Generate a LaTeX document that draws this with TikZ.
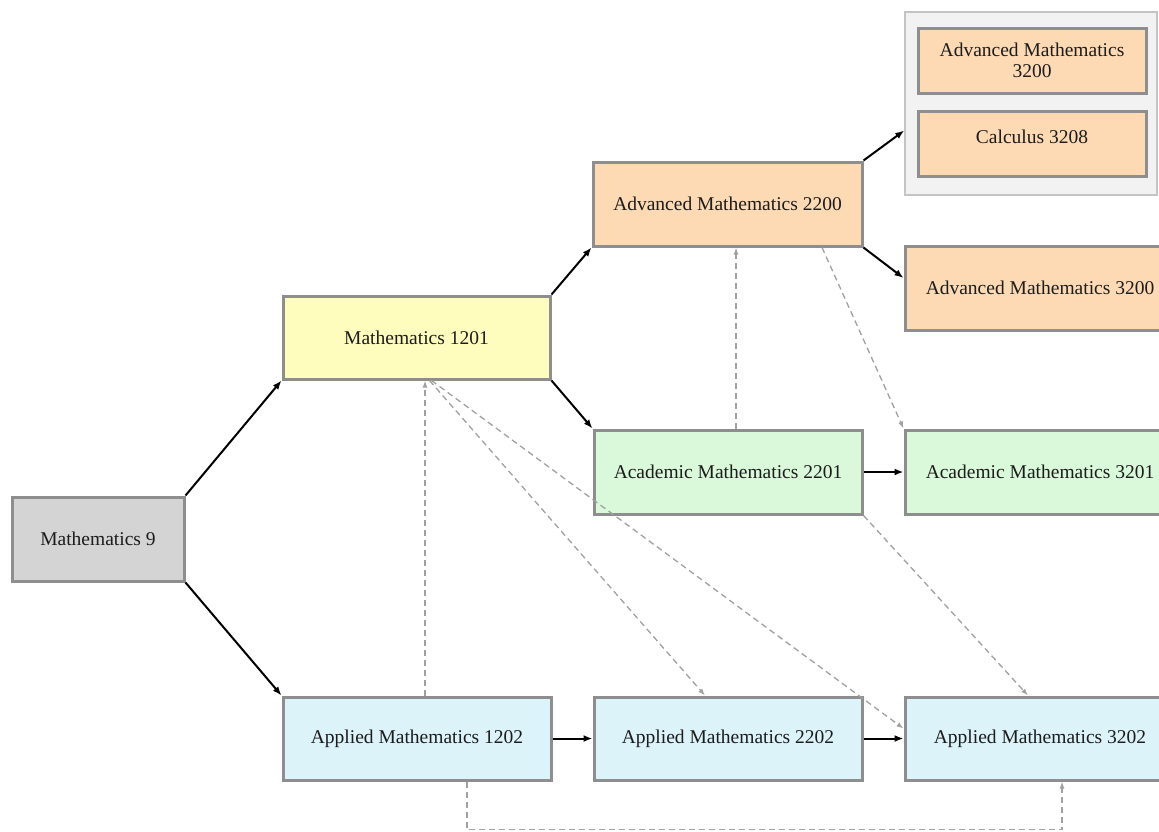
\documentclass[tikz,border=0pt]{standalone}
\usepackage{fontspec}
\setmainfont{Liberation Serif}
\usetikzlibrary{arrows.meta,calc}
\definecolor{boxline}{HTML}{8E8E8E}
\definecolor{cgrey}{HTML}{D4D4D4}
\definecolor{cyellow}{HTML}{FFFDBE}
\definecolor{cpeach}{HTML}{FDDAB4}
\definecolor{cgreen}{HTML}{DAF8DA}
\definecolor{cblue}{HTML}{DCF3FA}
\definecolor{grpfill}{HTML}{F2F2F2}
\definecolor{grpline}{HTML}{C4C4C4}
\definecolor{dashgray}{HTML}{A0A0A0}
\definecolor{txt}{HTML}{1C1C1C}
\tikzset{
  course/.style={draw=boxline, line width=3pt, minimum width=268pt, minimum height=84pt,
    inner sep=0pt, align=center, text=txt, font=\fontsize{19.5}{21}\selectfont},
  inner/.style={course, minimum width=228pt, minimum height=65pt},
  grpbox/.style={draw=grpline, fill=grpfill, line width=1.5pt, minimum width=252pt, minimum height=183pt, inner sep=0pt},
  req/.style={draw=black, line width=2pt, -{Latex[length=9pt,width=7pt]}},
  dep/.style={draw=dashgray, line width=1.3pt, dash pattern=on 6pt off 4pt, -{Latex[length=7pt,width=5pt]}}
}
\begin{document}
\begin{tikzpicture}[x=1pt,y=-1pt]
\useasboundingbox (0,0) rectangle (1159,831);
\clip (0,0) rectangle (1159,831);
% group box
\node[grpbox] (grp) at (1031,103.5) {};
\node[inner, fill=cpeach] (adv3200a) at (1032,60.5) {\raisebox{-3pt}{\parbox{220pt}{\centering Advanced Mathematics\\3200}}};
\node[inner, fill=cpeach] (calc) at (1032,143.5) {\raisebox{14pt}{Calculus 3208}};
% course boxes
\node[course, fill=cgrey, minimum width=172pt] (m9) at (98,539) {Mathematics 9};
\node[course, fill=cyellow, minimum width=267pt, minimum height=83pt] (m1201) at (416.5,337.5) {Mathematics 1201};
\node[course, fill=cpeach, minimum width=269pt] (adv2200) at (727.5,204) {Advanced Mathematics 2200};
\node[course, fill=cpeach, minimum width=270pt] (adv3200b) at (1040,288) {Advanced Mathematics 3200};
\node[course, fill=cgreen] (ac2201) at (728,472) {Academic Mathematics 2201};
\node[course, fill=cgreen, minimum width=270pt] (ac3201) at (1040,472) {Academic Mathematics 3201};
\node[course, fill=cblue, minimum height=83pt] (a1202) at (417,738.5) {Applied Mathematics 1202};
\node[course, fill=cblue, minimum height=83pt] (a2202) at (728,738.5) {Applied Mathematics 2202};
\node[course, fill=cblue, minimum width=270pt, minimum height=83pt] (a3202) at (1040,738.5) {Applied Mathematics 3202};
% solid requirement arrows
\draw[req] (m9.north east) -- (m1201.south west);
\draw[req] (m9.south east) -- (a1202.north west);
\draw[req] (m1201.north east) -- (adv2200.south west);
\draw[req] (m1201.south east) -- (ac2201.north west);
\draw[req] (adv2200.north east) -- ([yshift=-27pt]grp.west);
\draw[req] (adv2200.south east) -- ([yshift=10pt]adv3200b.west);
\draw[req, line width=2.6pt] (ac2201.east) -- (ac3201.west);
\draw[req] (a1202.east) -- (a2202.west);
\draw[req] (a2202.east) -- (a3202.west);
% dashed alternative paths
\draw[dep] ([xshift=8pt]a1202.north) -- ([xshift=8pt]a1202.north |- m1201.south);
\draw[dep] ([xshift=8pt]ac2201.north) -- ([xshift=8pt]ac2201.north |- adv2200.south);
\draw[dep] ([xshift=94.5pt]adv2200.south) -- (ac3201.north west);
\draw[dep] ([xshift=13pt]m1201.south) -- ([xshift=-23pt]a2202.north);
\draw[dep] ([xshift=15pt]m1201.south) -- ([yshift=-33pt]a3202.north west);
\draw[dep] (ac2201.south east) -- ([xshift=-12pt]a3202.north);
\draw[dep] ([xshift=50pt]a1202.south) -- ++(0,48) -| ([xshift=22pt]a3202.south);
\end{tikzpicture}
\end{document}
